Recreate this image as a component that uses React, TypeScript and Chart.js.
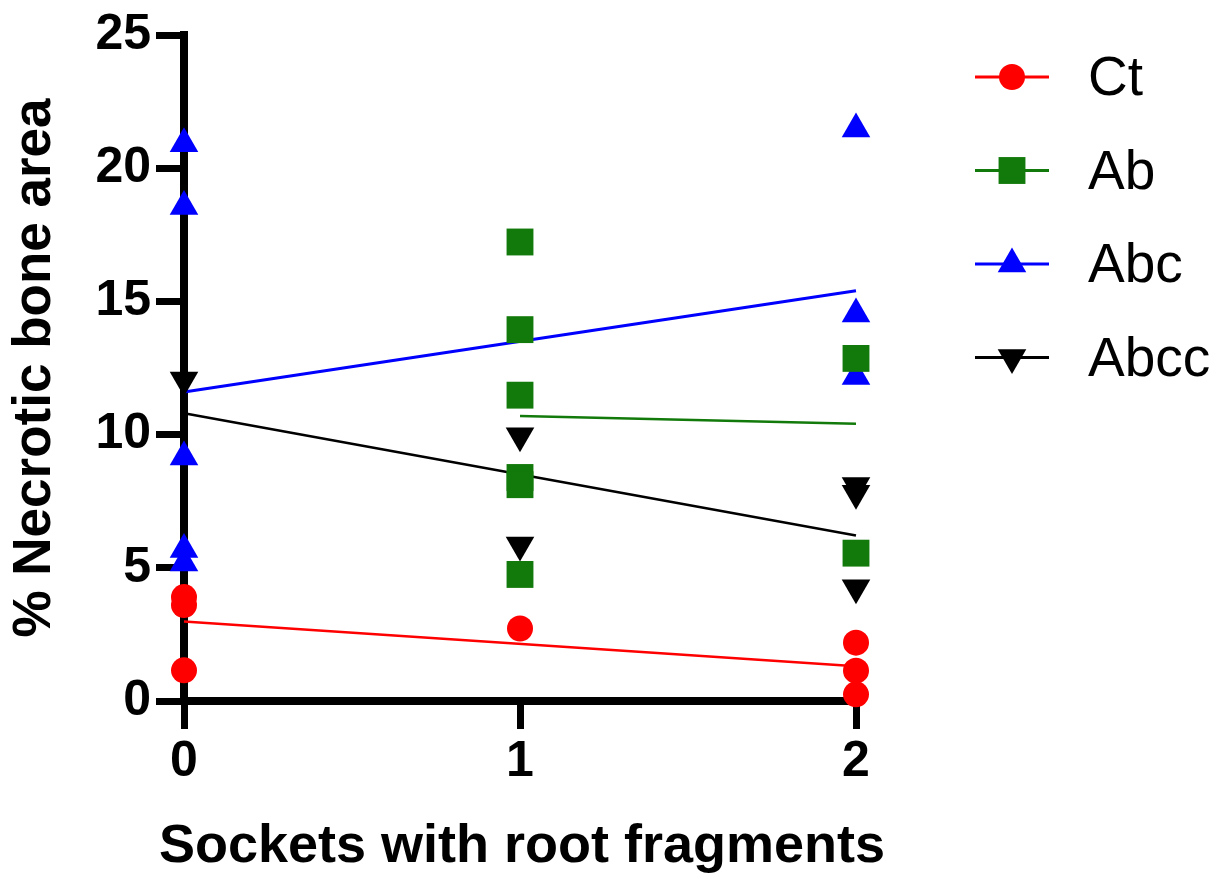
import React, { useEffect, useRef } from 'react';
import { Chart, registerables } from 'chart.js';

Chart.register(...registerables);

// ---- Data ----
const xTickLabels = ['0', '1', '2'];
const yTickValues = [0, 5, 10, 15, 20, 25];
const xAxisTitle = 'Sockets with root fragments';
const yAxisTitle = '% Necrotic bone area';
const seriesNames = ['Ct', 'Ab', 'Abc', 'Abcc'];
const seriesColors = ['#ff0000', '#127a0a', '#0000ff', '#000000'];

const ctX = [0, 0, 0, 1, 2, 2, 2];
const ctY = [3.9, 3.6, 1.15, 2.72, 2.19, 1.14, 0.25];

const abX = [1, 1, 1, 1, 1, 1, 2, 2];
const abY = [17.23, 13.94, 11.48, 8.39, 8.12, 4.75, 12.86, 5.55];

const abcX = [0, 0, 0, 0, 0, 2, 2, 2];
const abcY = [20.92, 18.56, 9.16, 5.69, 5.18, 21.47, 14.53, 12.18];

const abccX = [0, 1, 1, 2, 2, 2];
const abccY = [12.05, 9.96, 5.86, 8.09, 7.8, 4.25];

// regression (fit) lines: end points
const ctFitX = [0, 2];
const ctFitY = [2.98, 1.3];
const abFitX = [1, 2];
const abFitY = [10.7, 10.41];
const abcFitX = [0, 2];
const abcFitY = [11.6, 15.4];
const abccFitX = [0, 2];
const abccFitY = [10.8, 6.21];

const FONT = '"Liberation Sans", Arial, Helvetica, sans-serif';

const toPoints = (xs: number[], ys: number[]) => xs.map((x, i) => ({ x, y: ys[i] }));

type MarkerStyle = 'circle' | 'rect' | 'triangle';
const markerStyles: MarkerStyle[] = ['circle', 'rect', 'triangle', 'triangle'];
const markerRadii = [13, 19, 16.5, 16.5];
const markerRotations = [0, 0, 0, 180];

function drawMarker(
  ctx: CanvasRenderingContext2D,
  style: MarkerStyle,
  x: number,
  y: number,
  r: number,
  rotation: number,
  color: string
) {
  ctx.save();
  ctx.fillStyle = color;
  ctx.beginPath();
  if (style === 'circle') {
    ctx.arc(x, y, r, 0, Math.PI * 2);
  } else if (style === 'rect') {
    const s = Math.SQRT1_2 * r;
    ctx.rect(x - s, y - s, 2 * s, 2 * s);
  } else {
    let rad = (rotation * Math.PI) / 180;
    const step = (2 * Math.PI) / 3;
    rad += step;
    ctx.moveTo(x + Math.sin(rad) * r, y - Math.cos(rad) * r);
    rad += step;
    ctx.lineTo(x + Math.sin(rad) * r, y - Math.cos(rad) * r);
    rad += step;
    ctx.lineTo(x + Math.sin(rad) * r, y - Math.cos(rad) * r);
    ctx.closePath();
  }
  ctx.fill();
  ctx.restore();
}

export default function App() {
  const canvasRef = useRef<HTMLCanvasElement | null>(null);

  useEffect(() => {
    document.body.style.margin = '0';
    const canvas = canvasRef.current;
    if (!canvas) return;

    const pointSets = [
      toPoints(ctX, ctY),
      toPoints(abX, abY),
      toPoints(abcX, abcY),
      toPoints(abccX, abccY),
    ];
    const fitSets = [
      toPoints(ctFitX, ctFitY),
      toPoints(abFitX, abFitY),
      toPoints(abcFitX, abcFitY),
      toPoints(abccFitX, abccFitY),
    ];

    const pointDatasets = seriesNames.map((name, i) => ({
      type: 'scatter' as const,
      label: name,
      data: pointSets[i],
      showLine: false,
      clip: false,
      pointStyle: markerStyles[i],
      pointRadius: markerRadii[i],
      pointRotation: markerRotations[i],
      pointBackgroundColor: seriesColors[i],
      pointBorderColor: seriesColors[i],
      pointBorderWidth: 0,
      pointHoverRadius: markerRadii[i],
      order: 0,
    }));

    const fitDatasets = seriesNames.map((name, i) => ({
      type: 'line' as const,
      label: name + ' fit',
      data: fitSets[i],
      showLine: true,
      clip: false,
      borderColor: seriesColors[i],
      borderWidth: i === 2 ? 3 : 2.5,
      pointRadius: 0,
      fill: false,
      order: 1,
    }));

    // x-axis title wider than the plot area (Chart.js would squeeze it), so drawn here
    const xTitlePlugin = {
      id: 'wideXTitle',
      afterDraw(chart: Chart) {
        const ctx = chart.ctx;
        const xScale: any = chart.scales.x;
        ctx.save();
        ctx.fillStyle = '#000';
        ctx.font = `bold 54px ${FONT}`;
        ctx.textAlign = 'center';
        ctx.textBaseline = 'alphabetic';
        ctx.fillText(xAxisTitle, (xScale.left + xScale.right) / 2 + 2, xScale.bottom - 17);
        ctx.restore();
      },
    };

    const legendPlugin = {
      id: 'sideLegend',
      afterDraw(chart: Chart) {
        const ctx = chart.ctx;
        const top = 77;
        const spacing = 93.5;
        const lineStart = 975;
        const lineEnd = 1049;
        const textX = 1088;
        ctx.save();
        seriesNames.forEach((name, i) => {
          const y = top + i * spacing;
          ctx.strokeStyle = seriesColors[i];
          ctx.lineWidth = 3;
          ctx.beginPath();
          ctx.moveTo(lineStart, y);
          ctx.lineTo(lineEnd, y);
          ctx.stroke();
          drawMarker(ctx, markerStyles[i], (lineStart + lineEnd) / 2, y, markerRadii[i], markerRotations[i], seriesColors[i]);
          ctx.fillStyle = '#000';
          ctx.font = `normal 55px ${FONT}`;
          ctx.textAlign = 'left';
          ctx.textBaseline = 'middle';
          ctx.fillText(name, textX, y + 3);
        });
        ctx.restore();
      },
    };

    const chart = new Chart(canvas, {
      type: 'scatter',
      data: { datasets: [...pointDatasets, ...fitDatasets] as any },
      options: {
        animation: false,
        responsive: false,
        events: [],
        layout: { padding: { top: 31, right: 365, bottom: 0, left: 0 } },
        plugins: {
          legend: { display: false },
          tooltip: { enabled: false },
        },
        scales: {
          x: {
            type: 'linear',
            min: 0,
            max: 2,
            afterBuildTicks: (scale: any) => {
              scale.ticks = xTickLabels.map((l) => ({ value: Number(l) }));
            },
            afterFit: (scale: any) => {
              scale.height = 178;
            },
            ticks: {
              color: '#000',
              font: { family: FONT, size: 50, weight: 'bold' },
              padding: 3,
              callback: (v: any) => xTickLabels[Number(v)] ?? '',
            },
            grid: {
              drawOnChartArea: false,
              drawTicks: true,
              tickLength: 28,
              tickWidth: 7,
              tickColor: '#000',
            },
            border: { display: true, color: '#000', width: 8 },
            title: { display: false },
          },
          y: {
            type: 'linear',
            min: 0,
            max: 25,
            afterBuildTicks: (scale: any) => {
              scale.ticks = yTickValues.map((v) => ({ value: v }));
            },
            afterFit: (scale: any) => {
              scale.width = 184;
            },
            ticks: {
              color: '#000',
              font: { family: FONT, size: 50, weight: 'bold' },
              padding: 5,
            },
            grid: {
              drawOnChartArea: false,
              drawTicks: true,
              tickLength: 28,
              tickWidth: 7,
              tickColor: '#000',
            },
            border: { display: true, color: '#000', width: 8 },
            title: {
              display: true,
              text: yAxisTitle,
              color: '#000',
              font: { family: FONT, size: 53, weight: 'bold' },
              padding: { top: 4, bottom: 0 },
            },
          },
        },
      } as any,
      plugins: [xTitlePlugin, legendPlugin],
    });

    return () => {
      chart.destroy();
    };
  }, []);

  return (
    <div style={{ position: 'absolute', left: 0, top: 0, width: 1221, height: 879, background: '#fff' }}>
      <canvas ref={canvasRef} width={1221} height={879} />
    </div>
  );
}
